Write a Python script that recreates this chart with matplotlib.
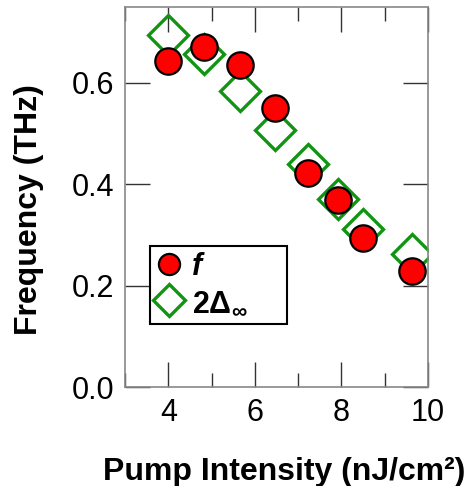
import matplotlib
matplotlib.use("Agg")
import matplotlib.pyplot as plt
from matplotlib.ticker import MultipleLocator

plt.rcParams['font.family'] = ['Liberation Sans', 'DejaVu Sans']
plt.rcParams['mathtext.fontset'] = 'custom'
plt.rcParams['mathtext.rm'] = 'Liberation Sans:bold'
plt.rcParams['mathtext.bf'] = 'Liberation Sans:bold'

# pump intensity (nJ/cm^2)
intensity = [4.0, 4.82, 5.66, 6.47, 7.22, 7.92, 8.50, 9.64]
# oscillation frequency f (THz)
freq_f = [0.644, 0.672, 0.636, 0.551, 0.423, 0.369, 0.295, 0.228]
# 2 x gap at infinity (THz)
freq_gap = [0.695, 0.657, 0.585, 0.507, 0.440, 0.372, 0.311, 0.263]

green = '#119411'

fig = plt.figure(figsize=(4.67, 4.86), dpi=100)
ax = fig.add_axes([125 / 467, 1 - 387 / 486, 303 / 467, 380 / 486])

ax.plot(intensity, freq_gap, 'D', ms=20, mfc='none', mec=green, mew=2.4,
        label=r'2$\mathbf{\Delta}_{\infty}$', zorder=2)
ax.plot(intensity, freq_f, 'o', ms=19, mfc='red', mec='black', mew=1.6,
        label='f', zorder=3)

ax.set_xlim(3, 10)
ax.set_ylim(0, 0.75)
ax.xaxis.set_minor_locator(MultipleLocator(1))
ax.tick_params(which='both', direction='in', top=True, right=True,
               color='#333333', width=1)
ax.tick_params(which='major', length=18, labelsize=22, pad=8)
ax.tick_params(which='minor', length=10)
ax.set_xticks([4, 6, 8, 10])
ax.set_xticklabels(['4', '6', '8', '10'])
ax.set_yticks([0.0, 0.2, 0.4, 0.6])
ax.set_yticklabels(['0.0', '0.2', '0.4', '0.6'])
for sp in ax.spines.values():
    sp.set_color('#888888')
    sp.set_linewidth(1.2)

ax.set_xlabel('Pump Intensity (nJ/cm²)', fontsize=23, fontweight='bold')
ax.set_ylabel('Frequency (THz)', fontsize=23, fontweight='bold')
ax.xaxis.set_label_coords(0.525, -0.184)
ax.yaxis.set_label_coords(-0.267, 0.468)

handles, labels = ax.get_legend_handles_labels()
leg = ax.legend(handles[::-1], labels[::-1], loc='lower left',
                bbox_to_anchor=(0.0825, 0.166, 0.452, 0.2), mode='expand',
                fancybox=False, edgecolor='black', framealpha=1,
                markerscale=0.8, handlelength=0.85, handletextpad=0.33,
                borderpad=0.2, labelspacing=0.2, borderaxespad=0,
                prop={'size': 22, 'weight': 'bold'})
leg.get_frame().set_linewidth(1.5)
leg.get_texts()[0].set_style('italic')

fig.savefig('out.png', dpi=100)
